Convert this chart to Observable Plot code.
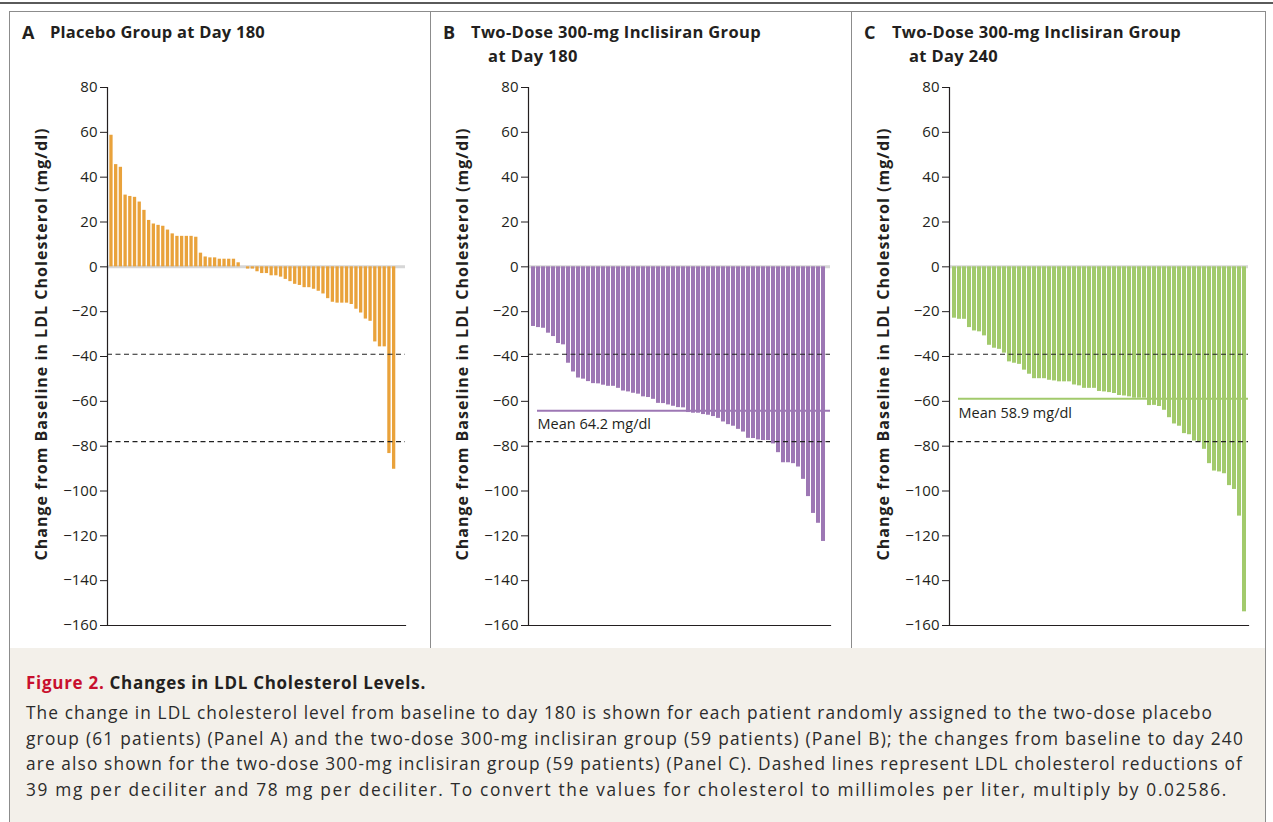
<!DOCTYPE html>
<html>
<head>
<meta charset="utf-8">
<script src="https://cdn.jsdelivr.net/npm/d3@7"></script>
<script src="https://cdn.jsdelivr.net/npm/@observablehq/plot@0.6"></script>
<style>
  body { margin: 0; background: #fff; }
  #fig { position: relative; width: 1273px; height: 822px; overflow: hidden; font-family: "Open Sans", Lato, sans-serif; color: #231f20; }
  .topline { position: absolute; left: 0; top: 2px; width: 1273px; height: 2px; background: #5a5a5a; }
  .box { position: absolute; left: 9px; top: 11px; width: 1255px; height: 636px; border: 1px solid #8c8c8c; border-bottom: 1px solid #6e6e6e; }
  .sep { position: absolute; top: 12px; width: 1px; height: 636px; background: #8c8c8c; }
  .capbox { position: absolute; left: 9px; top: 648px; width: 1255px; height: 180px; background: #f3f0ea; border-left: 1px solid #8c8c8c; border-right: 1px solid #8c8c8c; }
  .panel { position: absolute; top: 12px; }
  .t { position: absolute; white-space: nowrap; }
  .pt { font-weight: 700; font-size: 16.5px; line-height: 24px; }
  .cap-title { font-size: 17px; line-height: 26px; font-weight: 700; }
  .cap-title .red { color: #c8102e; }
  .cap-line { font-size: 17.3px; line-height: 25.7px; color: #2b2b2b; }
</style>
</head>
<body>
<div id="fig">
  <div class="topline"></div>
  <div class="box"></div>
  <div class="sep" style="left:430px"></div>
  <div class="sep" style="left:851px"></div>
  <div class="capbox"></div>
  <div id="pA" class="panel" style="left:10px"></div>
  <div id="pB" class="panel" style="left:431px"></div>
  <div id="pC" class="panel" style="left:852px"></div>
  <div id="texts"></div>
</div>
<script>
// ---- Data (change from baseline in LDL cholesterol, mg/dl, one value per patient) ----
const placeboDay180 = [
  58.7, 45.6, 44.4, 32, 31.4, 31, 28.9, 25.2, 20.7, 19.1,
  18.5, 18.1, 16.4, 14.7, 13.6, 13.6, 13.6, 13.6, 13.2, 6.1,
  4.4, 4, 4, 3.4, 3.4, 3.4, 3.4, 1.8, 0, -1,
  -1, -2.2, -3, -3, -4, -4, -4.6, -5.6, -6.6, -7.8,
  -8.3, -9.3, -9.3, -10, -10.9, -12.1, -14.2, -15.8, -16.2, -16.2,
  -16.2, -16.8, -18.9, -20.6, -23.3, -24.3, -33.5, -35.7, -35.7, -83.3,
  -90.3
];
const inclisiranDay180 = [
  -26.6, -27.1, -27.4, -29.6, -31.1, -34.2, -34.8, -43, -46.9, -49.6,
  -50.1, -51.2, -52.1, -52.2, -52.8, -53.3, -53.3, -54.2, -55.4, -55.8,
  -56.4, -56.8, -58, -58.3, -59.1, -60.9, -61, -61.6, -62.2, -62.8,
  -62.9, -65, -65.3, -65.3, -65.9, -66.2, -66.8, -67.6, -69.2, -70.4,
  -71.1, -72.5, -73.7, -76.5, -76.6, -77.2, -77.5, -77.5, -79, -82.9,
  -87.4, -87.4, -87.8, -89.3, -94.8, -102.5, -110, -114.4, -122.5
];
const inclisiranDay240 = [
  -22.9, -23.4, -23.4, -27.1, -28.6, -29, -30.8, -35, -36.3, -36.8,
  -38.5, -42.4, -43, -43.5, -46.1, -47.9, -49.9, -49.9, -49.9, -50.6,
  -50.9, -51.3, -51.3, -51.3, -52.7, -53.1, -54.2, -54.2, -54.2, -55.6,
  -55.8, -56.1, -56.5, -57.4, -57.6, -58, -58.6, -58.6, -58.6, -61.9,
  -61.8, -62.3, -64, -67.3, -70.1, -71.1, -74.4, -74.9, -77.7, -78.1,
  -81.4, -87.8, -91.1, -91.5, -92.3, -97.6, -99.3, -111.2, -153.9
];
const meanChanges = { B: -64.2, C: -58.9 };
const thresholds = [-39, -78];
const yTicks = [80, 60, 40, 20, 0, -20, -40, -60, -80, -100, -120, -140, -160];
const yLabel = "Change from Baseline in LDL Cholesterol (mg/dl)";

const panelLetters = ["A", "B", "C"];
const panelTitleLines = [
  ["Placebo Group at Day 180"],
  ["Two-Dose 300-mg Inclisiran Group", "at Day 180"],
  ["Two-Dose 300-mg Inclisiran Group", "at Day 240"]
];
const captionTitleRed = "Figure 2.";
const captionTitle = "Changes in LDL Cholesterol Levels.";
const captionLines = [
  "The change in LDL cholesterol level from baseline to day 180 is shown for each patient randomly assigned to the two-dose placebo",
  "group (61 patients) (Panel A) and the two-dose 300-mg inclisiran group (59 patients) (Panel B); the changes from baseline to day 240",
  "are also shown for the two-dose 300-mg inclisiran group (59 patients) (Panel C). Dashed lines represent LDL cholesterol reductions of",
  "39 mg per deciliter and 78 mg per deciliter. To convert the values for cholesterol to millimoles per liter, multiply by 0.02586."
];

const colors = { A: "#e9a23b", B: "#9d77b4", C: "#a2ca6c" };
const FONT = "'Open Sans', Lato, sans-serif";

function makePanel(values, color, opts) {
  const data = values.map((v, i) => ({ patient: i + 1, change: v }));
  const marks = [
    Plot.ruleY([0], { stroke: "#d6d6d6", strokeWidth: 3 }),
    Plot.barY(data, { x: "patient", y: "change", fill: color }),
    Plot.ruleY(thresholds, { stroke: "#222", strokeWidth: 1.2, strokeDasharray: "5,3.5" })
  ];
  if (opts.mean != null) {
    marks.push(
      Plot.ruleY([opts.mean], { stroke: color, strokeWidth: 2, insetLeft: 9 }),
      Plot.text([opts.mean], {
        y: d => d, text: d => `Mean ${Math.abs(d)} mg/dl`,
        frameAnchor: "left", textAnchor: "start", dx: 9, dy: 14,
        fill: "#231f20", fontSize: 14.5
      })
    );
  }
  marks.push(
    Plot.frame({ anchor: "left", stroke: "#231f20", strokeWidth: 1.2 }),
    Plot.frame({ anchor: "bottom", stroke: "#231f20", strokeWidth: 1.2 }),
    Plot.text([yLabel], {
      text: d => d, frameAnchor: "left", textAnchor: "middle", rotate: -90, dx: -66, dy: -12,
      fontWeight: "bold", fontSize: 16, fill: "#231f20"
    })
  );
  const svg = Plot.plot({
    width: opts.width,
    height: 636,
    marginLeft: 97,
    marginRight: opts.marginRight,
    marginTop: 75,
    marginBottom: 23,
    style: { fontFamily: FONT, fontSize: "15px", color: "#231f20", background: "transparent" },
    x: { type: "band", domain: data.map(d => d.patient), range: opts.xRange, padding: 0.3, axis: null },
    y: { domain: [-160, 80], ticks: yTicks, tickSize: 7, tickPadding: 3, label: null },
    marks
  });
  // stretch the rotated axis title to the reference's length
  d3.select(svg).selectAll("text").filter(function () { return this.textContent === yLabel; })
    .attr("textLength", 432).attr("lengthAdjust", "spacing");
  return svg;
}

document.getElementById("pA").append(makePanel(placeboDay180, colors.A, { width: 420, marginRight: 25, xRange: [97.9, 386.7] }));
document.getElementById("pB").append(makePanel(inclisiranDay180, colors.B, { width: 420, marginRight: 21, xRange: [97.2, 395.5], mean: meanChanges.B }));
document.getElementById("pC").append(makePanel(inclisiranDay240, colors.C, { width: 414, marginRight: 18, xRange: [97.2, 395.5], mean: meanChanges.C }));

// ---- titles & caption (HTML text fitted to the reference widths) ----
const host = document.getElementById("texts");
function addText(cls, html, left, top, targetWidth) {
  const el = document.createElement("div");
  el.className = "t " + cls;
  el.innerHTML = html;
  el.style.left = left + "px";
  el.style.top = top + "px";
  host.append(el);
  if (targetWidth) {
    const w = el.getBoundingClientRect().width;
    const n = el.textContent.length;
    el.style.letterSpacing = ((targetWidth - w) / n) + "px";
  }
  return el;
}
const panelLefts = [10, 431, 852];
const titleWidths = [[215], [290, 90], [289, 89]];
panelLetters.forEach((L, p) => {
  const x0 = panelLefts[p];
  addText("pt", L, x0 + 12, 20, 0).style.fontSize = "18px";
  panelTitleLines[p].forEach((line, i) => {
    addText("pt", line, x0 + (i === 0 ? 40 : 57), 20 + i * 24, titleWidths[p][i]);
  });
});
addText("cap-title", `<span class="red">${captionTitleRed}</span> ${captionTitle}`, 26, 670, 400);
const capWidths = [1187, 1218, 1217, 1202];
captionLines.forEach((line, i) => addText("cap-line", line, 26, 700 + i * 25.7, capWidths[i]));
</script>
</body>
</html>
